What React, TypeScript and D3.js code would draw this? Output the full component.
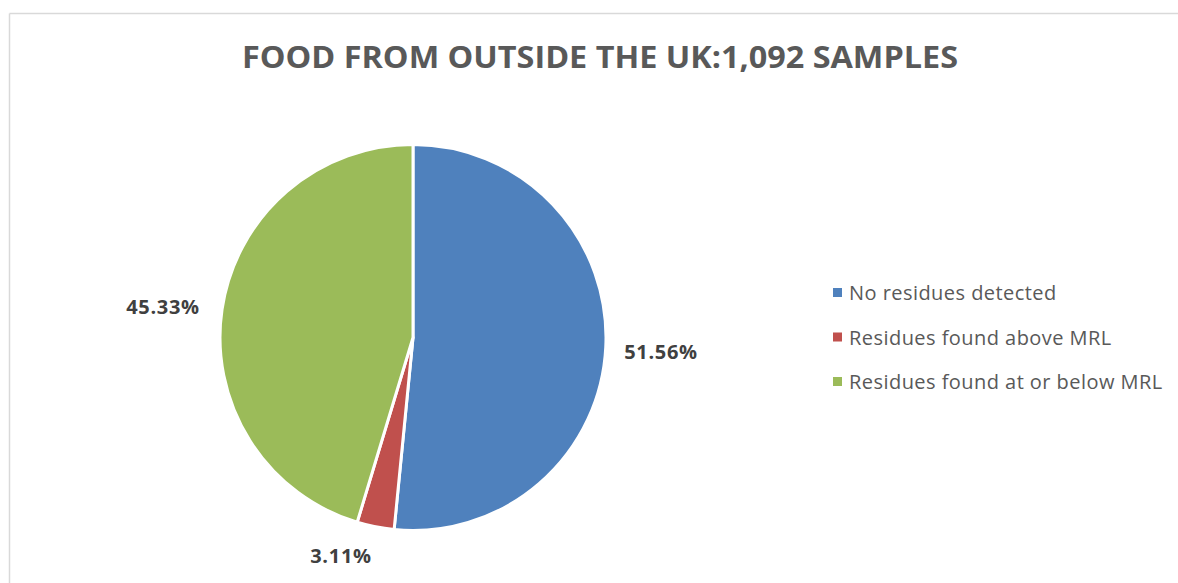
import React from "react";
import * as d3 from "d3";

const categories = ["No residues detected", "Residues found above MRL", "Residues found at or below MRL"];
const values = [51.56, 3.11, 45.33];
const labels = ["51.56%", "3.11%", "45.33%"];
const colors = ["#4F81BD", "#C0504D", "#9BBB59"];
const title = "FOOD FROM OUTSIDE THE UK:1,092 SAMPLES";

export default function App() {
  const W = 1178, H = 583;
  const cx = 413, cy = 337.5, r = 193;
  const pie = d3.pie<number>().sort(null).value((d) => d)(values);
  const arc = d3.arc<d3.PieArcDatum<number>>().innerRadius(0).outerRadius(r);
  const labelOffsets = [
    { x: 661, y: 359 },
    { x: 341, y: 563 },
    { x: 163, y: 314 },
  ];
  const font = "'Open Sans', sans-serif";
  return (
    <svg width={W} height={H} style={{ position: "absolute", left: 0, top: 0, background: "#fff" }}>
      <rect x={0} y={0} width={W} height={H} fill="#fff" />
      <line x1={9.5} y1={13.5} x2={W} y2={13.5} stroke="#d9d9d9" strokeWidth={1.5} />
      <line x1={9.5} y1={13.5} x2={9.5} y2={H} stroke="#d9d9d9" strokeWidth={1.5} />
      <text x={600} y={68} textAnchor="middle" fontFamily={font} fontWeight={700} fontSize={31} fill="#595959" textLength={716} lengthAdjust="spacingAndGlyphs">
        {title}
      </text>
      <g transform={`translate(${cx},${cy})`}>
        {pie.map((p, i) => (
          <path key={i} d={arc(p) || ""} fill={colors[i]} stroke="#fff" strokeWidth={3} strokeLinejoin="round" />
        ))}
      </g>
      {labels.map((l, i) => (
        <text key={i} x={labelOffsets[i].x} y={labelOffsets[i].y} textAnchor="middle" fontFamily={font} fontWeight={700} fontSize={20} letterSpacing={0.7} fill="#404040">
          {l}
        </text>
      ))}
      {categories.map((c, i) => (
        <g key={i} transform={`translate(833,${293 + i * 44.5})`}>
          <rect x={0} y={-5} width={9} height={9} fill={colors[i]} />
          <text x={16} y={7} fontFamily={font} fontSize={20} letterSpacing={0.45} fill="#595959">
            {c}
          </text>
        </g>
      ))}
    </svg>
  );
}
